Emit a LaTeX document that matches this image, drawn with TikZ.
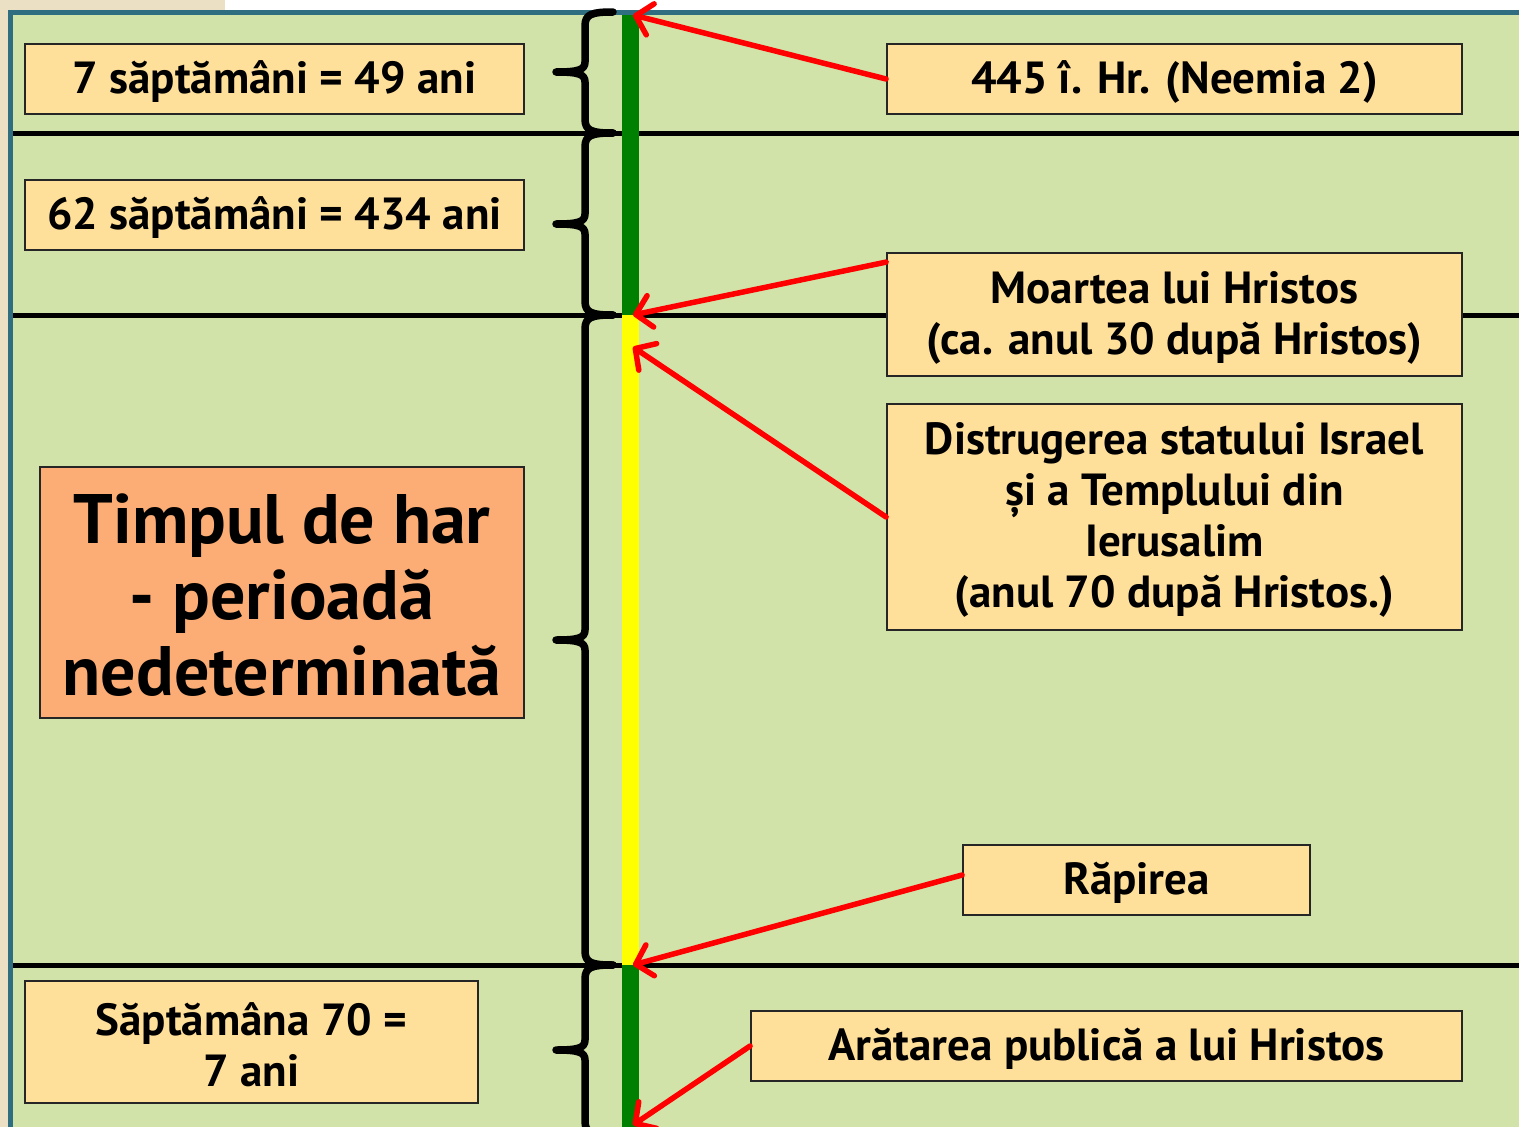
\documentclass[tikz,border=0pt]{standalone}
\usepackage{fontspec}
\setmainfont{PT Sans}
\usetikzlibrary{arrows.meta}
\definecolor{bggreen}{HTML}{D1E3A8}
\definecolor{boxfill}{HTML}{FFE09B}
\definecolor{orangefill}{HTML}{FBAD75}
\definecolor{tealborder}{HTML}{2F6E80}
\definecolor{beige}{HTML}{EBE0C3}
\definecolor{bargreen}{HTML}{008000}
\definecolor{baryellow}{HTML}{FFFF00}
\newcommand\bracedraw[3]{%
  \draw[bracestyle] (613,#1) .. controls (592,#1) and (585,#1+2) .. (585,#1+14)
    -- (585,#3-10) .. controls (585,#3-2) and (578,#3) .. (556,#3)
    .. controls (578,#3) and (585,#3+2) .. (585,#3+10)
    -- (585,#2-14) .. controls (585,#2-2) and (592,#2) .. (613,#2);}
\begin{document}
\begin{tikzpicture}[x=1pt,y=-1pt,
  bracestyle/.style={line width=7.5pt,line cap=round,line join=round,black},
  sepline/.style={line width=5pt,black},
  infobox/.style={draw=black!85,line width=1.8pt,fill=boxfill,inner sep=0pt},
  bigbox/.style={draw=black!85,line width=1.8pt,fill=orangefill,inner sep=0pt},
  infotext/.style={inner sep=0pt,align=center,yshift=-3pt,
    font=\bfseries\fontsize{45}{51}\selectfont},
  bigtext/.style={inner sep=0pt,align=center,yshift=-3pt,
    font=\bfseries\fontsize{70}{76}\selectfont},
  redarrow/.style={draw=red,line width=5.5pt,line cap=round,
    -{Straight Barb[round,length=15pt,width=32pt,line width=5.5pt]}}]
\useasboundingbox (0,0) rectangle (1519,1127);
\clip (0,0) rectangle (1519,1127);
% background
\fill[white] (0,0) rectangle (1519,1127);
\fill[beige] (0,0) rectangle (225,12);
\fill[beige] (0,0) rectangle (10,1127);
\fill[bggreen] (10,12) rectangle (1519,1127);
\draw[tealborder,line width=5pt] (10.5,1127) -- (10.5,12.5) -- (1519,12.5);
% separator lines
\draw[sepline] (13,133) -- (1519,133);
\draw[sepline] (13,315) -- (1519,315);
\draw[sepline] (13,965) -- (1519,965);
% braces
\bracedraw{12}{133}{72}
\bracedraw{133}{315}{224}
\bracedraw{315}{965}{640}
\bracedraw{965}{1135}{1050}
% time bar
\fill[bargreen] (622,15) rectangle (639,315);
\fill[baryellow] (622,315) rectangle (639,965);
\fill[bargreen] (622,965) rectangle (639,1127);
% boxes
\node[infobox,minimum width=499pt,minimum height=70pt] (A) at (274.5,79) {};
\node[infotext] (At) at (A.center) {7 săptămâni = 49 ani};
\node[infobox,minimum width=499pt,minimum height=70pt] (B) at (274.5,215) {};
\node[infotext] (Bt) at (B.center) {62 săptămâni = 434 ani};
\node[bigbox,minimum width=484pt,minimum height=251pt] (C) at (282,592.5) {};
\node[bigtext] (Ct) at (C.center) {Timpul de har\\- perioadă\\nedeterminată};
\node[infobox,minimum width=453pt,minimum height=122pt] (D) at (251.5,1042) {};
\node[infotext] (Dt) at (D.center) {Săptămâna 70 =\\7 ani};
\node[infobox,minimum width=575pt,minimum height=70pt] (E) at (1174.5,79) {};
\node[infotext] (Et) at (E.center) {445 î. Hr. (Neemia 2)};
\node[infobox,minimum width=575pt,minimum height=123pt] (F) at (1174.5,314.5) {};
\node[infotext] (Ft) at (F.center) {Moartea lui Hristos\\(ca. anul 30 după Hristos)};
\node[infobox,minimum width=575pt,minimum height=226pt] (G) at (1174.5,517) {};
\node[infotext] (Gt) at (G.center) {Distrugerea statului Israel\\și a Templului din\\Ierusalim\\(anul 70 după Hristos.)};
\node[infobox,minimum width=347pt,minimum height=70pt] (H) at (1136.5,880) {};
\node[infotext] (Ht) at (H.center) {Răpirea};
\node[infobox,minimum width=711pt,minimum height=70pt] (I) at (1106.5,1046) {};
\node[infotext] (It) at (I.center) {Arătarea publică a lui Hristos};
% arrow targets
\coordinate (t1) at (633,15);
\coordinate (t2) at (633,315);
\coordinate (t3) at (633,347);
\coordinate (t4) at (633,965);
\coordinate (t5) at (633,1125);
% arrows
\draw[redarrow] (E.west) -- (t1);
\draw[redarrow] ([yshift=-10pt]F.north west) -- (t2);
\draw[redarrow] (G.west) -- (t3);
\draw[redarrow] ([yshift=5pt]H.west) -- (t4);
\draw[redarrow] (I.west) -- (t5);
\end{tikzpicture}
\end{document}
